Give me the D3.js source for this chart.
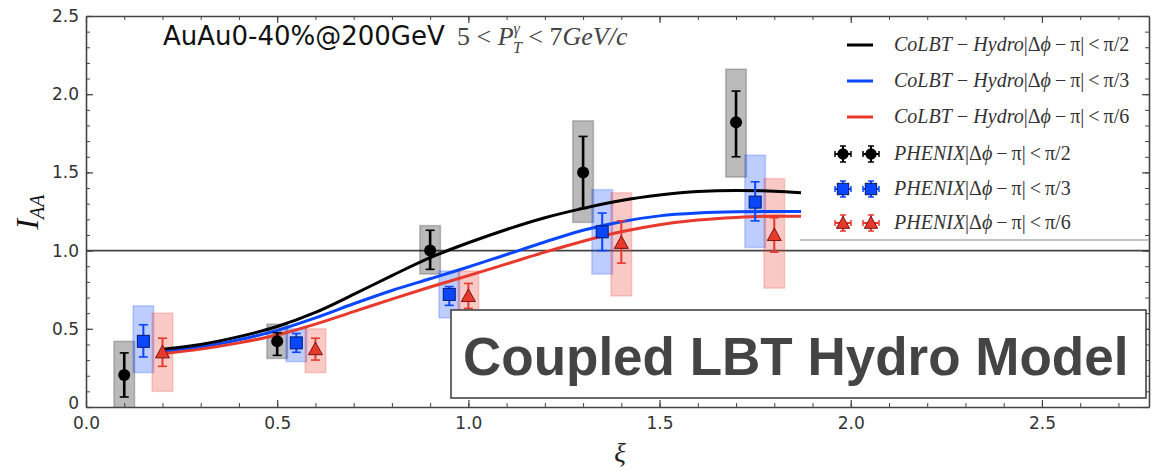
<!DOCTYPE html>
<html>
<head>
<meta charset="utf-8">
<script src="https://cdn.jsdelivr.net/npm/d3@7"></script>
<style>
  html, body { margin: 0; padding: 0; background: #fff; }
  svg { display: block; }
</style>
</head>
<body>
<svg id="chart" width="1151" height="471"></svg>
<script>
// ---- PHENIX I_AA points (x = xi, central value, stat and sys ranges) ----
const phenixHalfPiX   = [0.10, 0.50, 0.90, 1.30, 1.70];
const phenixHalfPiY   = [0.205, 0.42, 1.00, 1.50, 1.82];
const phenixHalfPiStatLo = [0.064, 0.33, 0.88, 1.27, 1.60];
const phenixHalfPiStatHi = [0.346, 0.475, 1.13, 1.73, 2.02];
const phenixHalfPiSysLo  = [-0.05, 0.31, 0.85, 1.18, 1.47];
const phenixHalfPiSysHi  = [0.42, 0.53, 1.16, 1.83, 2.16];

const phenixThirdPiX   = [0.15, 0.55, 0.95, 1.35, 1.75];
const phenixThirdPiY   = [0.42, 0.41, 0.72, 1.12, 1.31];
const phenixThirdPiStatLo = [0.32, 0.35, 0.65, 1.00, 1.19];
const phenixThirdPiStatHi = [0.526, 0.47, 0.77, 1.24, 1.44];
const phenixThirdPiSysLo  = [0.22, 0.29, 0.57, 0.85, 1.02];
const phenixThirdPiSysHi  = [0.647, 0.50, 0.87, 1.39, 1.61];

const phenixSixthPiX   = [0.20, 0.60, 1.00, 1.40, 1.80];
const phenixSixthPiY   = [0.35, 0.37, 0.71, 1.05, 1.10];
const phenixSixthPiStatLo = [0.26, 0.30, 0.63, 0.92, 0.99];
const phenixSixthPiStatHi = [0.44, 0.44, 0.79, 1.19, 1.21];
const phenixSixthPiSysLo  = [0.10, 0.22, 0.53, 0.71, 0.76];
const phenixSixthPiSysHi  = [0.60, 0.50, 0.87, 1.37, 1.46];

// ---- CoLBT-Hydro curves ----
const colbtXi = [0.2, 0.3, 0.4, 0.5, 0.6, 0.7, 0.8, 0.9, 1.0, 1.1, 1.2, 1.3, 1.4, 1.5, 1.6, 1.7, 1.8, 1.87];
const colbtHalfPi  = [0.37, 0.40, 0.45, 0.515, 0.605, 0.72, 0.84, 0.955, 1.05, 1.135, 1.21, 1.27, 1.32, 1.355, 1.378, 1.385, 1.38, 1.37];
const colbtThirdPi = [0.35, 0.385, 0.43, 0.49, 0.57, 0.66, 0.745, 0.82, 0.895, 0.975, 1.055, 1.13, 1.185, 1.222, 1.24, 1.248, 1.25, 1.25];
const colbtSixthPi = [0.34, 0.37, 0.41, 0.46, 0.53, 0.61, 0.69, 0.767, 0.84, 0.915, 0.99, 1.06, 1.12, 1.165, 1.195, 1.212, 1.22, 1.22];

// ---- axis ticks ----
const xMajorTicks = [0.0, 0.5, 1.0, 1.5, 2.0, 2.5];
const yMajorTicks = [0.0, 0.5, 1.0, 1.5, 2.0, 2.5];
const yTickLabels = ["0", "0.5", "1.0", "1.5", "2.0", "2.5"];

const BLACK = "#000000", BLUE = "#0a46ff", RED = "#e8392d";

const svg = d3.select("#chart");
const x = d3.scaleLinear().domain([0, 2.78]).range([86, 1149]);
const y = d3.scaleLinear().domain([0, 2.5]).range([407, 16]);

svg.append("defs").append("clipPath").attr("id", "plotclip")
  .append("rect").attr("x", 86).attr("y", 16).attr("width", 1063).attr("height", 391);

const plot = svg.append("g").attr("clip-path", "url(#plotclip)");

// reference line at I_AA = 1
plot.append("line")
  .attr("x1", x(0)).attr("x2", x(2.78)).attr("y1", y(1)).attr("y2", y(1))
  .attr("stroke", "#444").attr("stroke-width", 1.6);

const series = [
  { color: BLACK, xs: phenixHalfPiX, ys: phenixHalfPiY, sLo: phenixHalfPiStatLo, sHi: phenixHalfPiStatHi, bLo: phenixHalfPiSysLo, bHi: phenixHalfPiSysHi, marker: "circle", boxFill: "#000", boxOp: 0.27, barW: 2.6 },
  { color: BLUE, xs: phenixThirdPiX, ys: phenixThirdPiY, sLo: phenixThirdPiStatLo, sHi: phenixThirdPiStatHi, bLo: phenixThirdPiSysLo, bHi: phenixThirdPiSysHi, marker: "square", boxFill: BLUE, boxOp: 0.27, barW: 2 },
  { color: RED, xs: phenixSixthPiX, ys: phenixSixthPiY, sLo: phenixSixthPiStatLo, sHi: phenixSixthPiStatHi, bLo: phenixSixthPiSysLo, bHi: phenixSixthPiSysHi, marker: "triangle", boxFill: RED, boxOp: 0.27, barW: 2 }
];

const boxHalf = 0.027;

// systematic boxes
series.forEach(s => {
  plot.append("g").selectAll("rect").data(s.xs.map((v, i) => i)).join("rect")
    .attr("x", i => x(s.xs[i] - boxHalf))
    .attr("width", i => x(s.xs[i] + boxHalf) - x(s.xs[i] - boxHalf))
    .attr("y", i => y(s.bHi[i]))
    .attr("height", i => y(s.bLo[i]) - y(s.bHi[i]))
    .attr("fill", s.boxFill).attr("fill-opacity", s.boxOp)
    .attr("stroke", s.boxFill).attr("stroke-opacity", 0.22).attr("stroke-width", 1.5);
});

// model curves
const curves = [
  { ys: colbtThirdPi, color: BLUE },
  { ys: colbtSixthPi, color: RED },
  { ys: colbtHalfPi, color: BLACK }
];
const line = d3.line().x(d => x(d[0])).y(d => y(d[1])).curve(d3.curveMonotoneX);
curves.forEach(c => {
  plot.append("path").datum(colbtXi.map((v, i) => [v, c.ys[i]]))
    .attr("d", line).attr("fill", "none").attr("stroke", c.color).attr("stroke-width", 3);
});

// marker shapes
function drawMarker(g, kind, cx, cy, color, scale) {
  const k = scale || 1;
  if (kind === "circle") {
    g.append("circle").attr("cx", cx).attr("cy", cy).attr("r", 6 * k).attr("fill", color);
  } else if (kind === "square") {
    g.append("rect").attr("x", cx - 6 * k).attr("y", cy - 6 * k).attr("width", 12 * k).attr("height", 12 * k)
      .attr("fill", color).attr("stroke", "#00186e").attr("stroke-width", 1);
  } else {
    const h = 7 * k;
    g.append("path").attr("d", `M${cx},${cy - h}L${cx + h},${cy + h * 0.8}L${cx - h},${cy + h * 0.8}Z`)
      .attr("fill", color).attr("stroke", "#7a1410").attr("stroke-width", 1);
  }
}

// statistical error bars and markers
series.forEach(s => {
  const g = plot.append("g");
  s.xs.forEach((xv, i) => {
    const cx = x(xv);
    g.append("line").attr("x1", cx).attr("x2", cx).attr("y1", y(s.sHi[i])).attr("y2", y(s.sLo[i]))
      .attr("stroke", s.color).attr("stroke-width", s.barW);
    [s.sHi[i], s.sLo[i]].forEach(v => {
      g.append("line").attr("x1", cx - 4.5).attr("x2", cx + 4.5).attr("y1", y(v)).attr("y2", y(v))
        .attr("stroke", s.color).attr("stroke-width", 1.6);
    });
  });
  s.xs.forEach((xv, i) => drawMarker(g, s.marker, x(xv), y(s.ys[i]), s.color));
});

// ---- axes (ticks pointing inward on all four sides) ----
const axisColor = "#444";
function styleAxis(g) {
  g.select(".domain").attr("stroke", axisColor).attr("stroke-width", 1.6);
  g.selectAll(".tick line").attr("stroke", axisColor).attr("stroke-width", 1.2);
  g.selectAll("text").attr("fill", "#333").attr("font-family", "DejaVu Sans, sans-serif").attr("font-size", 17);
}
const xMinor = d3.range(0, 28).map(i => i / 10);
const yMinor = d3.range(0, 26).map(i => i / 10);

const gxB = svg.append("g").attr("transform", `translate(0,${y(0)})`)
  .call(d3.axisBottom(x).tickValues(xMajorTicks).tickFormat(d3.format(".1f")).tickSizeInner(-7).tickSizeOuter(0).tickPadding(10));
styleAxis(gxB);
svg.append("g").attr("transform", `translate(0,${y(0)})`)
  .call(d3.axisBottom(x).tickValues(xMinor).tickFormat("").tickSizeInner(-4).tickSizeOuter(0))
  .call(g => { g.select(".domain").remove(); g.selectAll("line").attr("stroke", axisColor); });

const gxT = svg.append("g").attr("transform", `translate(0,${y(2.5)})`)
  .call(d3.axisTop(x).tickValues(xMajorTicks).tickFormat("").tickSizeInner(-7).tickSizeOuter(0));
styleAxis(gxT);
svg.append("g").attr("transform", `translate(0,${y(2.5)})`)
  .call(d3.axisTop(x).tickValues(xMinor).tickFormat("").tickSizeInner(-4).tickSizeOuter(0))
  .call(g => { g.select(".domain").remove(); g.selectAll("line").attr("stroke", axisColor); });

const gyL = svg.append("g").attr("transform", `translate(${x(0)},0)`)
  .call(d3.axisLeft(y).tickValues(yMajorTicks).tickFormat((d, i) => yTickLabels[i]).tickSizeInner(-7).tickSizeOuter(0).tickPadding(7));
styleAxis(gyL);
// lift the "0" label slightly so it clears the x-axis "0.0"
gyL.selectAll(".tick text").filter(d => d === 0).attr("dy", "0.1em");
svg.append("g").attr("transform", `translate(${x(0)},0)`)
  .call(d3.axisLeft(y).tickValues(yMinor).tickFormat("").tickSizeInner(-4).tickSizeOuter(0))
  .call(g => { g.select(".domain").remove(); g.selectAll("line").attr("stroke", axisColor); });

const gyR = svg.append("g").attr("transform", `translate(${x(2.78)},0)`)
  .call(d3.axisRight(y).tickValues(yMajorTicks).tickFormat("").tickSizeInner(-7).tickSizeOuter(0));
styleAxis(gyR);
svg.append("g").attr("transform", `translate(${x(2.78)},0)`)
  .call(d3.axisRight(y).tickValues(yMinor).tickFormat("").tickSizeInner(-4).tickSizeOuter(0))
  .call(g => { g.select(".domain").remove(); g.selectAll("line").attr("stroke", axisColor); });

// ---- axis titles ----
const serif = "Liberation Serif, DejaVu Serif, serif";
const yl = svg.append("text").attr("transform", "translate(38,212) rotate(-90)")
  .attr("text-anchor", "middle").attr("font-family", serif).attr("font-style", "italic").attr("fill", "#111");
yl.append("tspan").attr("font-size", 32).text("I");
yl.append("tspan").attr("font-size", 20).attr("dy", 6).text("AA");

svg.append("text").attr("x", 620).attr("y", 462).attr("text-anchor", "middle")
  .attr("font-family", serif).attr("font-style", "italic").attr("font-size", 27).attr("fill", "#222").text("ξ");

// ---- header ----
svg.append("text").attr("x", 163).attr("y", 45).attr("font-family", "DejaVu Sans, sans-serif")
  .attr("font-size", 26).attr("fill", "#111").text("AuAu0-40%@200GeV");
const kin = svg.append("text").attr("x", 457).attr("y", 45).attr("font-family", serif).attr("font-size", 26).attr("fill", "#444");
kin.append("tspan").text("5 < ");
kin.append("tspan").attr("font-style", "italic").text("P");
kin.append("tspan").attr("font-style", "italic").attr("font-size", 16).attr("dy", -11).text("γ");
kin.append("tspan").attr("font-style", "italic").attr("font-size", 16).attr("dx", -7).attr("dy", 19).text("T");
kin.append("tspan").attr("dy", -8).text(" < 7");
kin.append("tspan").attr("font-style", "italic").text("GeV/c");

// ---- legend ----
const legendLines = [
  { color: BLACK, frac: "π/2" },
  { color: BLUE, frac: "π/3" },
  { color: RED, frac: "π/6" }
];
const legendPoints = [
  { color: BLACK, marker: "circle", frac: "π/2" },
  { color: BLUE, marker: "square", frac: "π/3" },
  { color: RED, marker: "triangle", frac: "π/6" }
];
const legRowsLine = [45, 81, 117];
const legRowsPt = [154, 189, 223];
const lg = svg.append("g");
const THIN = "\u2009";

function legendLabel(yPos, name, frac) {
  const t = lg.append("text").attr("x", 894).attr("y", yPos + 6).attr("font-family", serif)
    .attr("font-size", 20).attr("fill", "#333");
  t.append("tspan").attr("font-style", "italic").text(name);
  t.append("tspan").text("|Δ");
  t.append("tspan").attr("font-style", "italic").text("ϕ");
  t.append("tspan").text(THIN + "−" + THIN + "π|" + THIN + "<" + THIN + frac);
}

legendLines.forEach((d, i) => {
  lg.append("line").attr("x1", 847).attr("x2", 873).attr("y1", legRowsLine[i]).attr("y2", legRowsLine[i])
    .attr("stroke", d.color).attr("stroke-width", 3);
  legendLabel(legRowsLine[i], "CoLBT" + THIN + "−" + THIN + "Hydro", d.frac);
});
legendPoints.forEach((d, i) => {
  [843, 871].forEach(cx => {
    const cy = legRowsPt[i];
    lg.append("line").attr("x1", cx - 8).attr("x2", cx + 8).attr("y1", cy).attr("y2", cy).attr("stroke", d.color).attr("stroke-width", 2);
    lg.append("line").attr("x1", cx).attr("x2", cx).attr("y1", cy - 8).attr("y2", cy + 8).attr("stroke", d.color).attr("stroke-width", 2);
    lg.append("line").attr("x1", cx - 8).attr("x2", cx - 8).attr("y1", cy - 3).attr("y2", cy + 3).attr("stroke", d.color).attr("stroke-width", 1.5);
    lg.append("line").attr("x1", cx + 8).attr("x2", cx + 8).attr("y1", cy - 3).attr("y2", cy + 3).attr("stroke", d.color).attr("stroke-width", 1.5);
    lg.append("line").attr("x1", cx - 3).attr("x2", cx + 3).attr("y1", cy - 8).attr("y2", cy - 8).attr("stroke", d.color).attr("stroke-width", 1.5);
    lg.append("line").attr("x1", cx - 3).attr("x2", cx + 3).attr("y1", cy + 8).attr("y2", cy + 8).attr("stroke", d.color).attr("stroke-width", 1.5);
    drawMarker(lg, d.marker, cx, cy, d.color, 0.95);
  });
  legendLabel(legRowsPt[i], "PHENIX", d.frac);
});
lg.append("line").attr("x1", 800).attr("x2", 1151).attr("y1", 240).attr("y2", 240)
  .attr("stroke", "#888").attr("stroke-width", 1.2);

// ---- model caption ----
svg.append("rect").attr("x", 451).attr("y", 310).attr("width", 695).attr("height", 88)
  .attr("fill", "#fff").attr("stroke", "#444").attr("stroke-width", 1.6);
svg.append("text").attr("x", 463).attr("y", 375).attr("font-family", "Liberation Sans, Arial, sans-serif")
  .attr("font-weight", "bold").attr("font-size", 53).attr("fill", "#444").text("Coupled LBT Hydro Model");
</script>
</body>
</html>
